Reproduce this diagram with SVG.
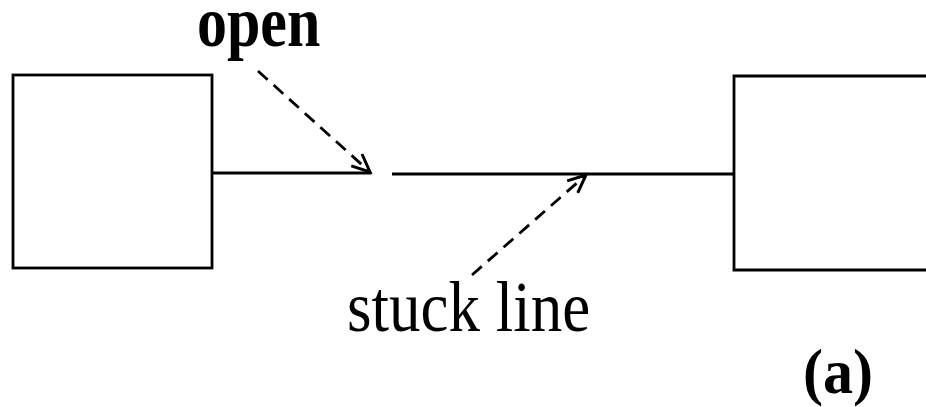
<svg xmlns="http://www.w3.org/2000/svg" width="926" height="407" viewBox="0 0 926 407">
<style>
.box{fill:none;stroke:#000;stroke-width:2.8}
.wire{fill:none;stroke:#000;stroke-width:2.8}
.dash{fill:none;stroke:#000;stroke-width:2.8;stroke-dasharray:13 8}
.lbl{font-family:"Liberation Serif","Times New Roman",serif;fill:#000}
</style>
<defs>
<marker id="ah" viewBox="0 0 24 24" refX="21" refY="12" markerWidth="24" markerHeight="24" markerUnits="userSpaceOnUse" orient="auto">
<path d="M3,4 L21,12 L3,20" fill="none" stroke="#000" stroke-width="3"/>
</marker>
</defs>
<rect width="926" height="407" fill="#fff"/>
<g id="left-box"><rect class="box" x="13" y="75" width="199" height="193"/></g>
<g id="right-box"><path class="box" d="M930,76 L734,76 L734,270 L930,270"/></g>
<g id="connectors">
<path class="wire" d="M212,173 L371,173"/>
<path class="wire" d="M392,174 L734,174"/>
<path class="dash" d="M258,71 L370,172" marker-end="url(#ah)"/>
<path class="dash" d="M472,275 L586,175" marker-end="url(#ah)"/>
</g>
<g id="labels">
<text class="lbl" x="197" y="0" font-size="60" font-weight="bold" transform="translate(0,46) scale(1,1.2)">open</text>
<text class="lbl" x="347" y="0" font-size="63" transform="translate(0,331) scale(1,1.15)">stuck line</text>
<text class="lbl" x="803" y="0" font-size="60" font-weight="bold" transform="translate(0,393) scale(1,1.05)">(a)</text>
</g>
</svg>
